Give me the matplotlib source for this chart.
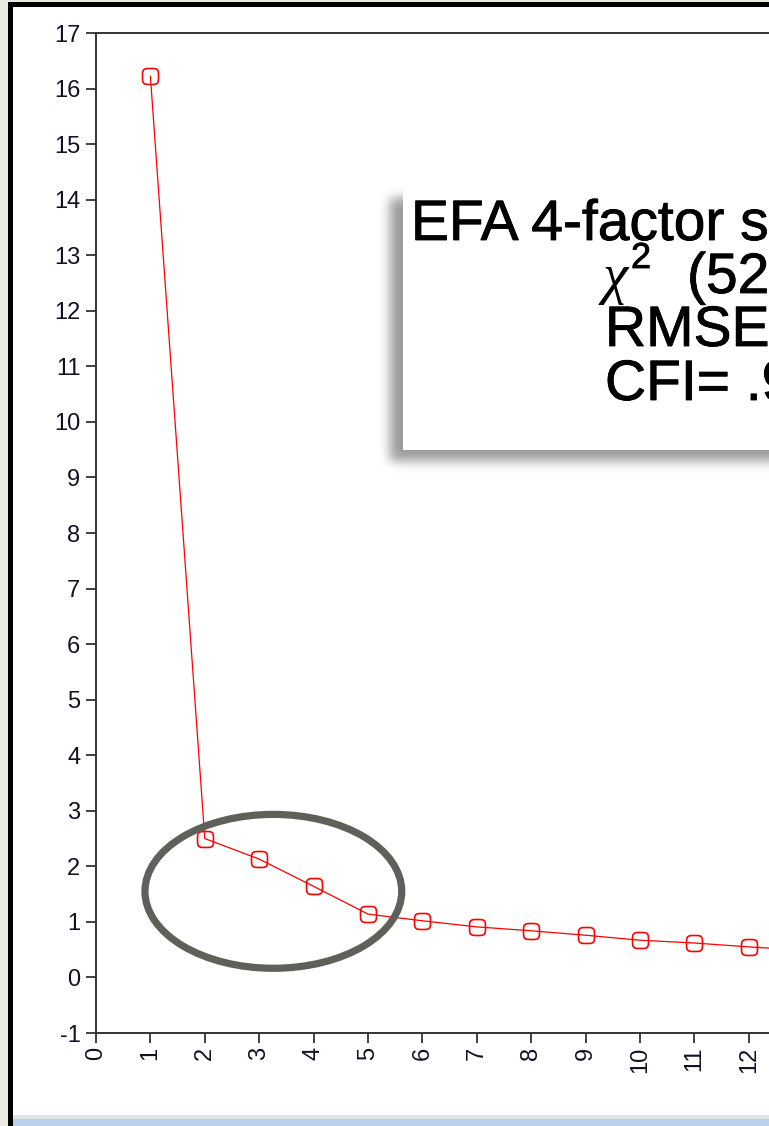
import numpy as np
import matplotlib
matplotlib.use("Agg")
import matplotlib.pyplot as plt
from matplotlib.patches import Ellipse, Rectangle
from matplotlib.path import Path
import matplotlib.patheffects as pe

# ---- data ----
factors = [1, 2, 3, 4, 5, 6, 7, 8, 9, 10, 11, 12, 13]
eigenvalues = [16.22, 2.50, 2.13, 1.64, 1.14, 1.02, 0.91, 0.84, 0.76, 0.67, 0.62, 0.55, 0.49]
x_ticks = list(range(0, 15))
y_ticks = list(range(-1, 18))
box_lines = ["EFA 4-factor s", "(52", "RMSEA", "CFI= .9"]

W, H = 769, 1126
fig = plt.figure(figsize=(W / 100, H / 100), dpi=100)
fig.patch.set_facecolor("white")


def rect(x0, y0, x1, y1):
    return [x0 / W, 1 - y1 / H, (x1 - x0) / W, (y1 - y0) / H]


ax = fig.add_axes(rect(96, 33, 96 + 14 * 54.4, 1033))
ax.set_xlim(0, 14)
ax.set_ylim(-1, 17)

# rounded-square marker
t = np.linspace(0, 2 * np.pi, 80)
c, s = np.cos(t), np.sin(t)
mx = np.sign(c) * np.abs(c) ** 0.5
my = np.sign(s) * np.abs(s) ** 0.5
marker = Path(np.column_stack([mx, my]))

ax.plot(factors, eigenvalues, color="#FF0000", lw=0.9, marker=marker, ms=11.5,
        mfc="none", mec="#FF0000", mew=1.2, zorder=3, clip_on=False)

ax.add_patch(Ellipse((3.26, 1.55), 4.72, 2.77, fill=False, ec="#5F605A",
                     lw=5.2, zorder=5))

ax.set_xticks(x_ticks)
ax.set_yticks(y_ticks)
ax.set_xticklabels([str(v) for v in x_ticks], rotation=90)
ax.set_yticklabels([str(v) for v in y_ticks])
ax.tick_params(direction="out", length=7.2, width=1.3, color="#333333",
               labelsize=17, labelcolor="#111122")
ax.tick_params(axis="y", pad=4)
ax.tick_params(axis="x", pad=2.5)
for lab in ax.get_xticklabels() + ax.get_yticklabels():
    lab.set_family("Liberation Sans")
for side in ["left", "top", "bottom"]:
    ax.spines[side].set_color("#333333")
    ax.spines[side].set_linewidth(1.4)
ax.spines["right"].set_visible(False)

# ---- overlay in pixel coordinates ----
ov = fig.add_axes([0, 0, 1, 1], zorder=10)
ov.axis("off")
ov.patch.set_alpha(0)

# shadow of text box (blurred)
sx0, sx1, sy0, sy1 = 350, W, 160, 500
hh, ww = sy1 - sy0, sx1 - sx0
yy, xx = np.mgrid[sy0:sy1, sx0:sx1]
mask = ((xx >= 390) & (yy >= 198) & (yy <= 460)).astype(float)
r = 20
k = np.exp(-0.5 * (np.arange(-r, r + 1) / 5.5) ** 2)
k /= k.sum()
pad = np.pad(mask, ((r, r), (r, r)), mode="edge")
pad = np.apply_along_axis(lambda v: np.convolve(v, k, mode="same"), 1, pad)
pad = np.apply_along_axis(lambda v: np.convolve(v, k, mode="same"), 0, pad)
blur = pad[r:-r, r:-r]
img = np.zeros((hh, ww, 4))
img[..., 3] = blur * 0.40
ov.imshow(img, extent=(sx0, sx1, sy1, sy0), origin="upper", interpolation="bilinear",
          zorder=1, aspect="auto")
ov.set_xlim(0, W)
ov.set_ylim(H, 0)
ov.add_patch(Rectangle((403, 184), 600, 266, fc="white", ec="none", zorder=2))

fs = 41
heavy = [pe.withStroke(linewidth=0.6, foreground="black")]
tk = dict(family="Liberation Sans", va="baseline", zorder=3, fontsize=fs, path_effects=heavy)
ov.text(411, 240, box_lines[0], **tk)
ov.text(603, 293, "χ", fontsize=fs, family="Liberation Serif", style="italic",
        va="baseline", zorder=3)
ov.text(631, 268, "2", fontsize=26, family="Liberation Sans",
        va="baseline", zorder=3, path_effects=heavy)
ov.text(687, 293, box_lines[1], **tk)
ov.text(605, 346, box_lines[2], **tk)
ov.text(605, 400, box_lines[3], **tk)

# window frame
ov.add_patch(Rectangle((0, 0), 8, H, fc="#ECE9E1", ec="none", zorder=5))
ov.add_patch(Rectangle((0, 0), W, 2, fc="#ECE9E1", ec="none", zorder=5))
ov.add_patch(Rectangle((8, 2), 5, H, fc="black", ec="none", zorder=6))
ov.add_patch(Rectangle((8, 2), W, 5, fc="black", ec="none", zorder=6))
ov.add_patch(Rectangle((13, 1115), W, 4, fc="#E4E4E4", ec="none", zorder=5))
ov.add_patch(Rectangle((13, 1119), W, 7, fc="#B9D1EA", ec="none", zorder=5))

fig.savefig("out.png", dpi=100)
